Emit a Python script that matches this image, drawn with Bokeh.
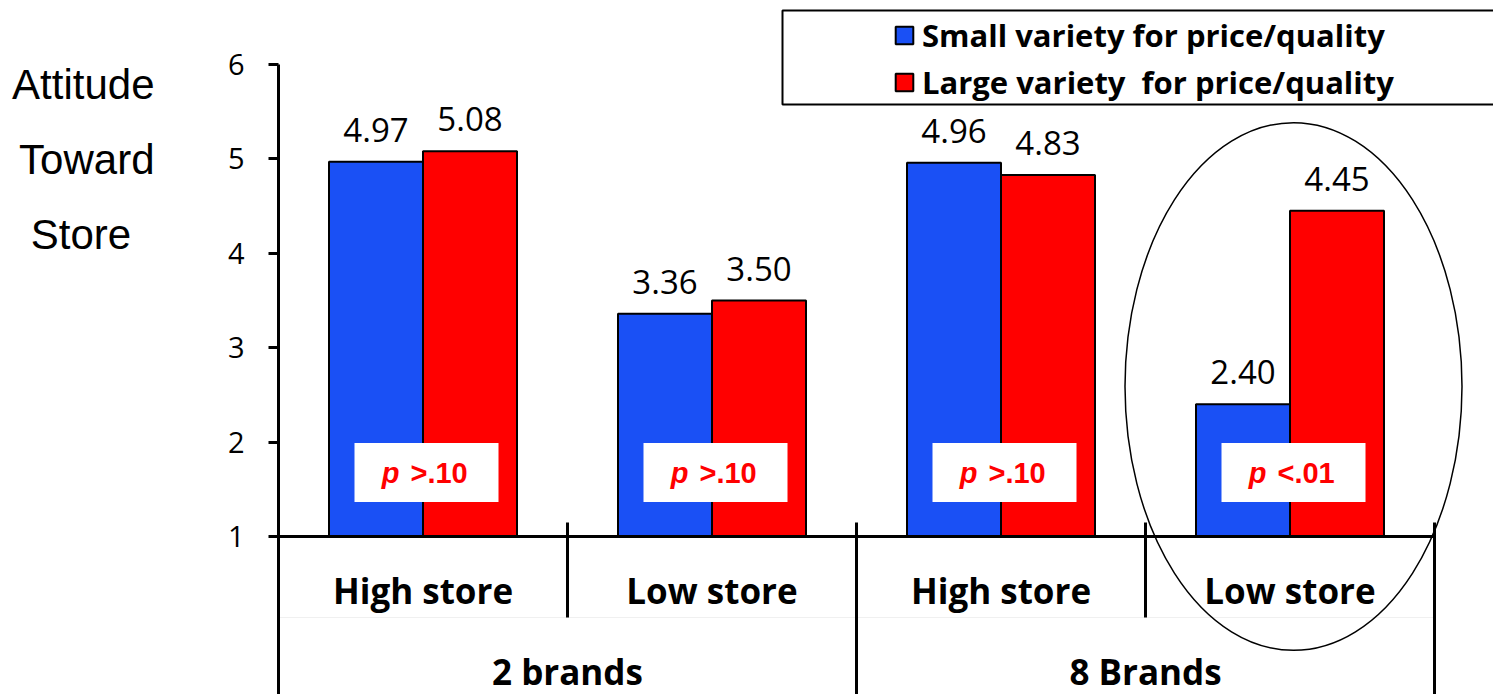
from bokeh.plotting import figure
from bokeh.models import Range1d, FixedTicker, Legend, LegendItem, BoxAnnotation, LinearAxis
from bokeh.core.properties import value
from bokeh.embed import file_html
from bokeh.resources import INLINE

# ---------------- data ----------------
brand_groups = ["2 brands", "8 Brands"]
store_levels = ["High store", "Low store", "High store", "Low store"]
small_variety = [4.97, 3.36, 4.96, 2.40]
large_variety = [5.08, 3.50, 4.83, 4.45]
p_values = [">.10", ">.10", ">.10", "<.01"]
y_ticks = [1, 2, 3, 4, 5, 6]
series_names = ["Small variety for price/quality", "Large variety  for price/quality"]
y_title = ["Attitude", "Toward", "Store"]

# ---------------- layout constants ----------------
W, H = 1493, 694
LEFT = 278          # pixel column of the value axis
CAT_PX = 289        # pixels per store category
Y_PX = 94.4         # pixels per attitude unit
Y1_ROW = 536        # pixel row of value 1

x_end = (W - LEFT) / CAT_PX
y_start = 1 - (H - Y1_ROW) / Y_PX
y_end = 1 + Y1_ROW / Y_PX


def row(px):
    """data value for a pixel row"""
    return 1 + (Y1_ROW - px) / Y_PX


BLUE = "#1A50F5"
RED = "#FF0000"
SANS = "Open Sans"
NBSP = "\u00a0"

p = figure(width=W, height=H, x_range=Range1d(0, x_end), y_range=Range1d(y_start, y_end),
           output_backend="svg", toolbar_location=None,
           min_border_left=LEFT, min_border_right=0, min_border_top=0, min_border_bottom=0,
           x_axis_location=None, y_axis_location="left")
p.outline_line_color = None
p.grid.visible = False
p.background_fill_color = "white"
p.border_fill_color = "white"

ax = p.yaxis[0]
ax.ticker = FixedTicker(ticks=y_ticks)
ax.bounds = (y_start, 6)
ax.axis_line_width = 3
ax.axis_line_color = "black"
ax.major_tick_line_width = 3
ax.major_tick_out = 10
ax.major_tick_in = 0
ax.minor_tick_line_color = None
ax.major_label_text_font = SANS
ax.major_label_text_font_size = "29px"
ax.major_label_text_color = "black"
ax.major_label_standoff = 24

# axis title: second (line-less) axis on the left carrying the horizontal 3-line title
# (the label block is centred on the frame, so blank lines below lift the words to the top)
title_lines = [y_title[0], y_title[1], y_title[2] + NBSP * 2] + [NBSP] * 5
title_axis = LinearAxis(ticker=FixedTicker(ticks=[]),
                        axis_line_color=None, major_tick_line_color=None, minor_tick_line_color=None,
                        major_label_text_font_size="0px",
                        axis_label="\n".join(title_lines), axis_label_orientation="horizontal",
                        axis_label_text_font="Liberation Sans", axis_label_text_font_style="normal",
                        axis_label_text_font_size="42px", axis_label_text_color="black",
                        axis_label_text_line_height=1.6, axis_label_text_align="center",
                        axis_label_standoff=70)
p.add_layout(title_axis, "left")

# ---------------- bars ----------------
n = len(store_levels)
centers = [i + 0.5 for i in range(n)]
bar_w = 94 / CAT_PX
xs_small = [c - bar_w / 2 for c in centers]
xs_large = [c + bar_w / 2 for c in centers]

r_small = p.vbar(x=xs_small, top=small_variety, bottom=1, width=bar_w,
                 fill_color=BLUE, line_color="black", line_width=2)
r_large = p.vbar(x=xs_large, top=large_variety, bottom=1, width=bar_w,
                 fill_color=RED, line_color="black", line_width=2)

# value labels
p.text(x=xs_small + xs_large, y=small_variety + large_variety,
       text=[f"{v:.2f}" for v in small_variety + large_variety],
       text_align="center", text_baseline="middle", y_offset=-32,
       text_font=value(SANS), text_font_size="33px", text_color="black")

# p-value boxes
box_x = [c + 3.5 / CAT_PX for c in centers]
box_y = row(472)
p.rect(x=box_x, y=[box_y] * n, width=144 / CAT_PX, height=59 / Y_PX,
       fill_color="white", line_color=None)
p.text(x=box_x, y=[box_y] * n, text=["p"] * n, text_align="right", text_baseline="middle",
       x_offset=-27, text_font=value("Liberation Sans"), text_font_style="bold italic",
       text_font_size="29px", text_color=RED)
p.text(x=box_x, y=[box_y] * n, text=p_values, text_align="left", text_baseline="middle",
       x_offset=-16, text_font=value("Liberation Sans"), text_font_style="bold",
       text_font_size="29px", text_color=RED)

# ---------------- category axis (drawn) ----------------
p.segment(x0=[0], y0=[1], x1=[n], y1=[1], line_color="black", line_width=3)
row_div = row(617)
p.segment(x0=[0], y0=[row_div], x1=[n], y1=[row_div], line_color="#f0f0f0", line_width=1)
sep_x = [1, 2, 3, 4]
sep_top = row(522)
sep_bottom = [row_div, y_start, row_div, y_start]
p.segment(x0=sep_x, y0=[sep_top] * 4, x1=sep_x, y1=sep_bottom, line_color="black", line_width=3)

p.text(x=centers, y=[row(590)] * n, text=store_levels, text_align="center", text_baseline="middle",
       text_font=value(SANS), text_font_style="bold", text_font_size="35px", text_color="black")
p.text(x=[1, 3], y=[row(671)] * 2, text=brand_groups, text_align="center", text_baseline="middle",
       text_font=value(SANS), text_font_style="bold", text_font_size="35px", text_color="black")

# ellipse highlight around the last group
p.ellipse(x=[centers[3] + 3.5 / CAT_PX], y=[row(386)], width=337 / CAT_PX, height=528 / Y_PX,
          fill_color=None, line_color="black", line_width=1.5)

# ---------------- legend ----------------
legend_box = BoxAnnotation(left=(782 - LEFT) / CAT_PX, right=(1502 - LEFT) / CAT_PX,
                           top=row(10), bottom=row(104),
                           fill_alpha=0, line_color="black", line_width=2, line_alpha=1)
p.add_layout(legend_box)

legend = Legend(items=[LegendItem(label=series_names[0], renderers=[r_small]),
                       LegendItem(label=series_names[1], renderers=[r_large])],
                location=(893 - LEFT, H - 103), orientation="vertical",
                padding=0, margin=0, spacing=5, label_height=42, glyph_height=22, glyph_width=22,
                label_standoff=7, border_line_alpha=0, background_fill_alpha=0,
                label_text_font=SANS, label_text_font_style="bold", label_text_font_size="31px",
                label_text_color="black")
p.add_layout(legend)

open("out.html", "w").write(file_html(p, INLINE))
